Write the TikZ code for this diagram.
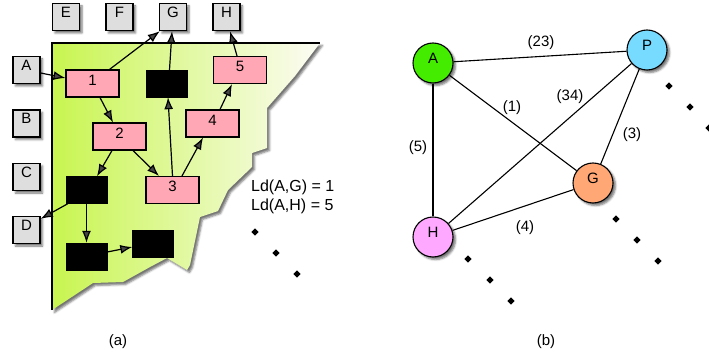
\documentclass[tikz,border=0pt]{standalone}
\usepackage{fontspec}
\setmainfont{Liberation Sans}
\usetikzlibrary{arrows.meta,shadows.blur,shapes.geometric}

\definecolor{boxgray}{RGB}{222,222,222}
\definecolor{boxpink}{RGB}{255,167,181}
\definecolor{limeleft}{RGB}{200,245,80}
\definecolor{limeright}{RGB}{252,252,244}
\definecolor{nodeA}{RGB}{68,236,0}
\definecolor{nodeP}{RGB}{119,218,255}
\definecolor{nodeG}{RGB}{255,168,118}
\definecolor{nodeH}{RGB}{255,168,255}

\tikzset{
  softshadow/.style={blur shadow={shadow xshift=2.5pt, shadow yshift=-2.5pt,
      shadow blur radius=2pt, shadow opacity=55}},
  graybox/.style={draw, fill=boxgray, line width=1.4pt, minimum size=27pt,
      inner sep=0pt, text height=11pt, text depth=10pt, softshadow},
  pinkbox/.style={draw, fill=boxpink, line width=1.1pt, minimum width=53pt,
      minimum height=27pt, inner sep=0pt, text height=11pt, text depth=7pt},
  blackbox/.style={draw, fill=black, minimum width=41pt, minimum height=27pt,
      inner sep=0pt},
  vertex/.style={circle, draw, line width=1.1pt, minimum size=40pt,
      inner sep=0pt, text height=11pt, text depth=10pt, softshadow},
  dot/.style={diamond, fill=black, minimum size=7.5pt, inner sep=0pt},
  flow/.style={line width=1.2pt, -{Latex[length=12pt,width=9pt]}},
  link/.style={line width=1.1pt},
}

\begin{document}
\begin{tikzpicture}[x=1pt, y=-1pt, font=\fontsize{15}{18}\selectfont]
\useasboundingbox (0,0) rectangle (709,358);

% ---------- (a) ----------
% shaded region with torn lower-right edge
\shade[softshadow, left color=limeleft, right color=limeright]
  (52,43) -- (320,43) -- (295,76) -- (267,108) -- (267,148) -- (252,153)
  -- (252,167) -- (228,190) -- (218,211) -- (200,217) -- (190,265)
  -- (187,270) -- (167,258) -- (150,267) -- (123,282) -- (93,283)
  -- (52,310) -- cycle;
\draw[line width=1.2pt] (52,310) -- (52,43) -- (320,43);

% ports
\node[graybox] (E) at (66,17) {E};
\node[graybox] (F) at (119.5,17) {F};
\node[graybox] (G) at (173,17) {G};
\node[graybox] (H) at (226.5,17) {H};
\node[graybox] (A) at (26.5,70) {A};
\node[graybox] (B) at (26.5,123.5) {B};
\node[graybox] (C) at (26.5,177) {C};
\node[graybox] (D) at (26.5,230) {D};

% blocks
\node[pinkbox] (n1) at (92.5,83.5) {1};
\node[pinkbox] (n2) at (119.5,136.5) {2};
\node[pinkbox] (n3) at (172.5,190) {3};
\node[pinkbox] (n4) at (212.5,123.5) {4};
\node[pinkbox] (n5) at (240,70) {5};
\node[blackbox] (k1) at (166.5,83.5) {};
\node[blackbox] (k2) at (86.5,190) {};
\node[blackbox] (k3) at (86.5,256.5) {};
\node[blackbox] (k4) at (153,243.5) {};

% data flow
\draw[flow] ([yshift=-3pt]A.east) -- ([yshift=5.5pt]n1.west);
\draw[flow] ([xshift=17pt]n1.north) -- ([xshift=1pt]G.south west);
\draw[flow] ([xshift=3pt]k1.north) -- ([xshift=-1pt]G.south);
\draw[flow] (n3.north) -- ([xshift=1.5pt]k1.south);
\draw[flow] ([xshift=-3pt]n5.north) -- ([xshift=3.5pt]H.south);
\draw[flow] ([xshift=7.5pt]n4.north) -- ([xshift=-8pt]n5.south);
\draw[flow] ([xshift=9.5pt]n3.north) -- ([xshift=-9.5pt]n4.south);
\draw[flow] ([xshift=7.5pt]n1.south) -- ([xshift=-6.5pt]n2.north);
\draw[flow] ([xshift=13.5pt]n2.south) -- ([xshift=-13.5pt]n3.north);
\draw[flow] ([xshift=-7.5pt]n2.south) -- ([xshift=10.5pt]k2.north);
\draw[flow] ([xshift=2pt]k2.south west) -- ([yshift=-3pt]D.north east);
\draw[flow] (k2.south) -- (k3.north);
\draw[flow] ([yshift=4.5pt]k3.east) -- ([yshift=-3.5pt]k4.west);

\begin{scope}[font=\fontsize{16}{19}\selectfont]
\node[anchor=base west, inner sep=0pt] (ldg) at (251,192) {Ld(A,G) = 1};
\node[anchor=base west, inner sep=0pt] (ldh) at (251,211) {Ld(A,H) = 5};
\end{scope}
\node[dot] (a1) at (255,232) {};
\node[dot] (a2) at (276,253) {};
\node[dot] (a3) at (297,274) {};
\node (capa) at (118,342) {(a)};

% ---------- (b) ----------
\node[vertex, fill=nodeA] (vA) at (433,63) {A};
\node[vertex, fill=nodeP] (vP) at (647,50) {P};
\node[vertex, fill=nodeG] (vG) at (593,183) {G};
\node[vertex, fill=nodeH] (vH) at (433,237) {H};

\draw[link] (vA) -- (vP);
\draw[link] (vA) -- (vG);
\draw[link] (vA) -- (vH);
\draw[link] (vP) -- (vH);
\draw[link] (vP) -- (vG);
\draw[link] (vH) -- (vG);

\node (w23) at (541,43) {(23)};
\node (w1) at (512,108) {(1)};
\node (w34) at (570,97) {(34)};
\node (w3) at (632,135) {(3)};
\node (w5) at (418,148) {(5)};
\node (w4) at (525,228) {(4)};

\node[dot] (p1) at (669,86) {};
\node[dot] (p2) at (690,107) {};
\node[dot] (p3) at (709,128) {};
\node[dot] (g1) at (616,219) {};
\node[dot] (g2) at (637,240) {};
\node[dot] (g3) at (658,261) {};
\node[dot] (h1) at (468,259) {};
\node[dot] (h2) at (490,280) {};
\node[dot] (h3) at (511,301) {};
\node (capb) at (546,342) {(b)};
\end{tikzpicture}
\end{document}
